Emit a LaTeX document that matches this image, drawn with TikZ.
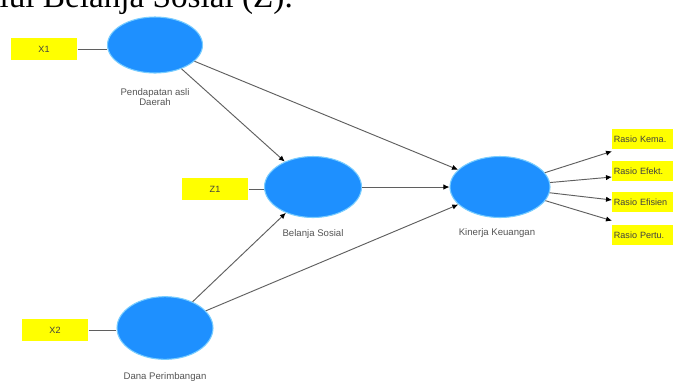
\documentclass[tikz,border=0pt]{standalone}
\usepackage{fontspec}
\setmainfont{Liberation Serif}
\newfontfamily\labfont{Liberation Sans}
\usetikzlibrary{shapes.geometric,arrows.meta,calc}
\definecolor{lvblue}{RGB}{30,144,255}
\definecolor{lvedge}{RGB}{120,205,255}
\definecolor{indyel}{RGB}{255,255,0}
\definecolor{conn}{RGB}{95,95,95}
\definecolor{labgray}{RGB}{85,85,85}
\begin{document}
\begin{tikzpicture}[x=0.75pt,y=-0.75pt,
  latent/.style={ellipse,fill=lvblue,draw=lvedge,line width=0.8pt,inner sep=0pt},
  inbox/.style={rectangle,fill=indyel,minimum width=50pt,minimum height=16.5pt,inner sep=1pt,
    font=\labfont\fontsize{6.8}{8}\selectfont,text=black!75},
  outbox/.style={rectangle,fill=indyel,anchor=west,text width=49pt,inner xsep=1.2pt,
    minimum height=15pt,inner ysep=1pt,align=left,font=\labfont\fontsize{6.8}{8}\selectfont,text=black!75},
  lvlabel/.style={font=\labfont\fontsize{7.2}{8}\selectfont,text=labgray,align=center},
  link/.style={draw=conn,line width=0.7pt},
  pathto/.style={link,-{Latex[length=4.5pt,width=4pt,color=black]}}
]
\useasboundingbox (0,0) rectangle (673,383);
\clip (0,0) rectangle (673,383);
\fill[white] (0,0) rectangle (673,383);

% cropped caption line
\node[anchor=base east,inner sep=0pt,font=\fontsize{24.9}{28}\selectfont] (cap) at (293,7) {melalui Belanja Sosial (Z).};

% latent variables
\node[latent,minimum width=71.25pt,minimum height=42pt] (pad) at (155,45) {};
\node[latent,minimum width=72.75pt,minimum height=45.75pt] (bel) at (313,187) {};
\node[latent,minimum width=72pt,minimum height=47pt] (dana) at (165,328) {};
\node[latent,minimum width=75pt,minimum height=45.75pt] (kin) at (500,187) {};

% labels
\node[lvlabel] (padl) at (155,97) {Pendapatan asli\\Daerah};
\node[lvlabel] (bell) at (313,234) {Belanja Sosial};
\node[lvlabel] (danal) at (165,377) {Dana Perimbangan};
\node[lvlabel] (kinl) at (497,233) {Kinerja Keuangan};

% indicator boxes (left)
\node[inbox] (x1) at (44,49) {X1};
\node[inbox] (z1) at (215,189) {Z1};
\node[inbox,minimum height=17pt] (x2) at (55,330) {X2};

% indicator boxes (right)
\node[outbox] (k1) at (612,139) {Rasio Kema.};
\node[outbox] (k2) at (612,171) {Rasio Efekt.};
\node[outbox] (k3) at (612,202) {Rasio Efisien};
\node[outbox] (k4) at (612,235) {Rasio Pertu.};

% measurement links
\draw[link] (x1.east) -- (x1.east -| pad.west);
\draw[link] (z1.east) -- (z1.east -| bel.west);
\draw[link] (x2.east) -- (x2.east -| dana.west);

% structural paths
\draw[pathto] (pad) -- (bel);
\draw[pathto] (pad) -- (kin);
\draw[pathto] (bel) -- (kin);
\draw[pathto] (dana) -- (bel);
\draw[pathto] (dana) -- (kin);

% outer loadings
\coordinate (e1) at ($(k1.south west)+(0,2)$);
\coordinate (e2) at ($(k2.west)+(0,6)$);
\coordinate (e3) at ($(k3.west)+(0,-2)$);
\coordinate (e4) at ($(k4.north west)+(0,-4)$);
\draw[pathto] (kin) -- (e1);
\draw[pathto] (kin) -- (e2);
\draw[pathto] (kin) -- (e3);
\draw[pathto] (kin) -- (e4);
\end{tikzpicture}
\end{document}
